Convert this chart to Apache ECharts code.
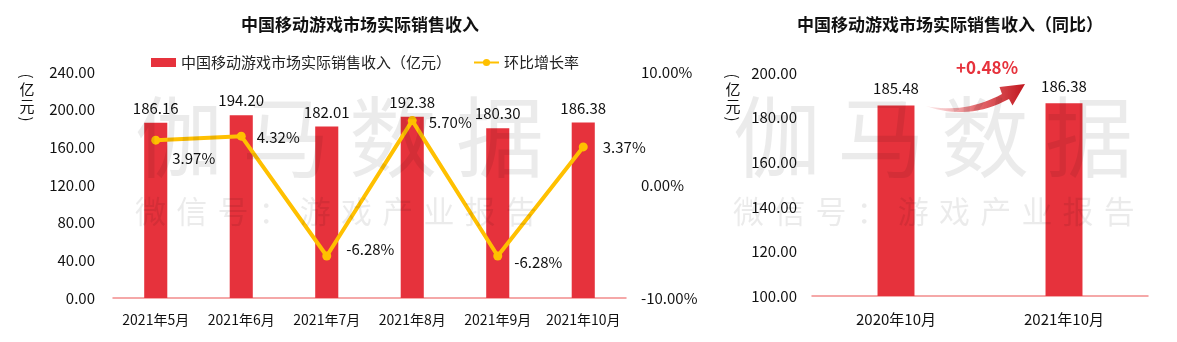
<!DOCTYPE html>
<html>
<head>
<meta charset="utf-8">
<script src="https://cdn.jsdelivr.net/npm/echarts@6/dist/echarts.min.js"></script>
<style>
  html, body { margin: 0; padding: 0; background: #fff; }
  #chart { width: 1177px; height: 342px; }
</style>
</head>
<body>
<div id="chart"></div>
<script>
// Monthly revenue (亿元) and month-on-month growth (%)
const months = ['2021年5月', '2021年6月', '2021年7月', '2021年8月', '2021年9月', '2021年10月'];
const revenue = [186.16, 194.20, 182.01, 192.38, 180.30, 186.38];
const momGrowth = [3.97, 4.32, -6.28, 5.70, -6.28, 3.37];

// Year-on-year comparison
const yoyMonths = ['2020年10月', '2021年10月'];
const yoyRevenue = [185.48, 186.38];
const yoyGrowth = 0.48;

// Axis ranges
const revenueAxis = { min: 0, max: 240, interval: 40 };
const growthAxis = { min: -10, max: 10, interval: 10 };
const yoyAxis = { min: 100, max: 200, interval: 20 };

// Label nudges for the growth line, per point
const growthLabelOffsets = [[7, 18], [6, 1], [10, -7], [7, 2], [7, 6], [10, 0]];

const FONT = "'Noto Sans CJK SC', 'Noto Sans', sans-serif";
const RED = '#E6323C';
const GOLD = '#FFC000';
const TEXT = '#111';
const AXIS_LINE = '#F28C8C';

const chart = echarts.init(document.getElementById('chart'), null, { renderer: 'canvas' });

// Light watermark laid over both panels
function watermark(x0, bigPitch, smallPitch) {
  const els = [];
  '伽马数据'.split('').forEach((ch, i) => {
    els.push({
      type: 'text', z: 100, silent: true,
      style: {
        text: ch, x: x0 + i * bigPitch, y: 137,
        font: 'normal 88px ' + FONT,
        fill: 'rgba(0,0,0,0.08)', verticalAlign: 'middle', align: 'left'
      }
    });
  });
  '微信号：游戏产业报告'.split('').forEach((ch, i) => {
    els.push({
      type: 'text', z: 100, silent: true,
      style: {
        text: ch, x: x0 + i * smallPitch, y: 211,
        font: 'normal 31px ' + FONT,
        fill: 'rgba(0,0,0,0.08)', verticalAlign: 'middle', align: 'left'
      }
    });
  });
  return els;
}

// Vertical unit name: turned brackets around upright characters
function unitLabel(x) {
  const base = { fill: TEXT, align: 'center', verticalAlign: 'middle', font: 'normal 15px ' + FONT };
  return {
    type: 'group', silent: true,
    children: [
      { type: 'text', x: x, y: 76, rotation: -Math.PI / 2, style: Object.assign({ text: '(' }, base) },
      { type: 'text', x: x, y: 89, style: Object.assign({ text: '亿' }, base) },
      { type: 'text', x: x, y: 106, style: Object.assign({ text: '元' }, base) },
      { type: 'text', x: x, y: 119, rotation: -Math.PI / 2, style: Object.assign({ text: ')' }, base) }
    ]
  };
}

// Outline of a curved arrow: quadratic curves for the shaft plus a triangular head
function quad(p0, c, p1, n) {
  const pts = [];
  for (let i = 0; i <= n; i++) {
    const t = i / n, u = 1 - t;
    pts.push([u * u * p0[0] + 2 * u * t * c[0] + t * t * p1[0],
              u * u * p0[1] + 2 * u * t * c[1] + t * t * p1[1]]);
  }
  return pts;
}
const arrowPoints = [
  ...quad([926, 106], [965, 114], [1002, 94], 16),
  [999.5, 87], [1025, 84], [1012.5, 105.5],
  ...quad([1009, 99], [968, 121], [926, 106], 16)
];

const option = {
  animation: false,
  textStyle: { fontFamily: FONT },
  title: [
    {
      text: '中国移动游戏市场实际销售收入',
      left: 355, top: 11, textAlign: 'center',
      textStyle: { fontFamily: FONT, fontSize: 17, fontWeight: 'bold', color: TEXT }
    },
    {
      text: '中国移动游戏市场实际销售收入（同比）',
      left: 945, top: 11, textAlign: 'center',
      textStyle: { fontFamily: FONT, fontSize: 17, fontWeight: 'bold', color: TEXT }
    }
  ],
  legend: {
    left: 146, top: 50,
    itemWidth: 25, itemHeight: 9, itemGap: 22,
    textStyle: { fontFamily: FONT, fontSize: 15, color: '#222' },
    data: [
      { name: '中国移动游戏市场实际销售收入（亿元）', icon: 'rect' },
      { name: '环比增长率' }
    ]
  },
  grid: [
    { left: 113, right: 551, top: 72, bottom: 44 },
    { left: 812, right: 29, top: 73, bottom: 46 }
  ],
  xAxis: [
    {
      type: 'category', gridIndex: 0, data: months,
      axisLine: { lineStyle: { color: AXIS_LINE, width: 1.5 } },
      axisTick: { show: false },
      axisLabel: { color: TEXT, fontSize: 14, margin: 15, fontFamily: FONT, interval: 0 }
    },
    {
      type: 'category', gridIndex: 1, data: yoyMonths,
      axisLine: { lineStyle: { color: AXIS_LINE, width: 1.5 } },
      axisTick: { show: false },
      axisLabel: { color: TEXT, fontSize: 15, margin: 16, fontFamily: FONT, interval: 0 }
    }
  ],
  yAxis: [
    {
      type: 'value', gridIndex: 0,
      min: revenueAxis.min, max: revenueAxis.max, interval: revenueAxis.interval,
      splitLine: { show: false }, axisLine: { show: false }, axisTick: { show: false },
      axisLabel: { color: TEXT, fontSize: 15, margin: 18, fontFamily: FONT, formatter: v => v.toFixed(2) }
    },
    {
      type: 'value', gridIndex: 0, position: 'right',
      min: growthAxis.min, max: growthAxis.max, interval: growthAxis.interval,
      splitLine: { show: false }, axisLine: { show: false }, axisTick: { show: false },
      axisLabel: { color: TEXT, fontSize: 15, margin: 15, fontFamily: FONT, formatter: v => v.toFixed(2) + '%' }
    },
    {
      type: 'value', gridIndex: 1,
      min: yoyAxis.min, max: yoyAxis.max, interval: yoyAxis.interval,
      splitLine: { show: false }, axisLine: { show: false }, axisTick: { show: false },
      axisLabel: { color: TEXT, fontSize: 15, margin: 15, fontFamily: FONT, formatter: v => v.toFixed(2) }
    }
  ],
  series: [
    {
      name: '中国移动游戏市场实际销售收入（亿元）',
      type: 'bar', xAxisIndex: 0, yAxisIndex: 0,
      data: revenue, barWidth: '27%',
      itemStyle: { color: RED },
      label: {
        show: true, position: 'top', distance: 7,
        color: TEXT, fontSize: 15, fontFamily: FONT,
        formatter: p => p.value.toFixed(2)
      }
    },
    {
      name: '环比增长率',
      type: 'line', xAxisIndex: 0, yAxisIndex: 1,
      data: momGrowth.map((v, i) => ({
        value: v,
        label: { offset: growthLabelOffsets[i] }
      })),
      symbol: 'circle', symbolSize: 9,
      lineStyle: { color: GOLD, width: 4 },
      itemStyle: { color: GOLD },
      z: 5,
      label: {
        show: true, position: 'right', distance: 5,
        color: TEXT, fontSize: 15, fontFamily: FONT,
        formatter: p => p.value.toFixed(2) + '%'
      }
    },
    {
      name: '同比',
      type: 'bar', xAxisIndex: 1, yAxisIndex: 2,
      data: yoyRevenue, barWidth: '22%',
      itemStyle: { color: RED },
      label: {
        show: true, position: 'top', distance: 10,
        color: TEXT, fontSize: 15, fontFamily: FONT,
        formatter: p => p.value.toFixed(2)
      }
    }
  ],
  graphic: [
    unitLabel(27),
    unitLabel(733),
    // curved growth arrow between the two yearly bars
    {
      type: 'polygon', silent: true, z: 10,
      shape: { points: arrowPoints },
      style: {
        fill: new echarts.graphic.LinearGradient(0, 0, 1, 0, [
          { offset: 0, color: 'rgba(235,120,125,0.15)' },
          { offset: 0.5, color: 'rgba(220,60,65,0.75)' },
          { offset: 1, color: '#C0161E' }
        ])
      }
    },
    {
      type: 'text', silent: true, z: 10,
      style: {
        text: '+' + yoyGrowth.toFixed(2) + '%', x: 987, y: 68,
        font: 'bold 17px ' + FONT, fill: RED,
        align: 'center', verticalAlign: 'middle'
      }
    },
    ...watermark(135, 107, 41.2),
    ...watermark(733, 104, 41.2)
  ]
};

chart.setOption(option);
</script>
</body>
</html>
